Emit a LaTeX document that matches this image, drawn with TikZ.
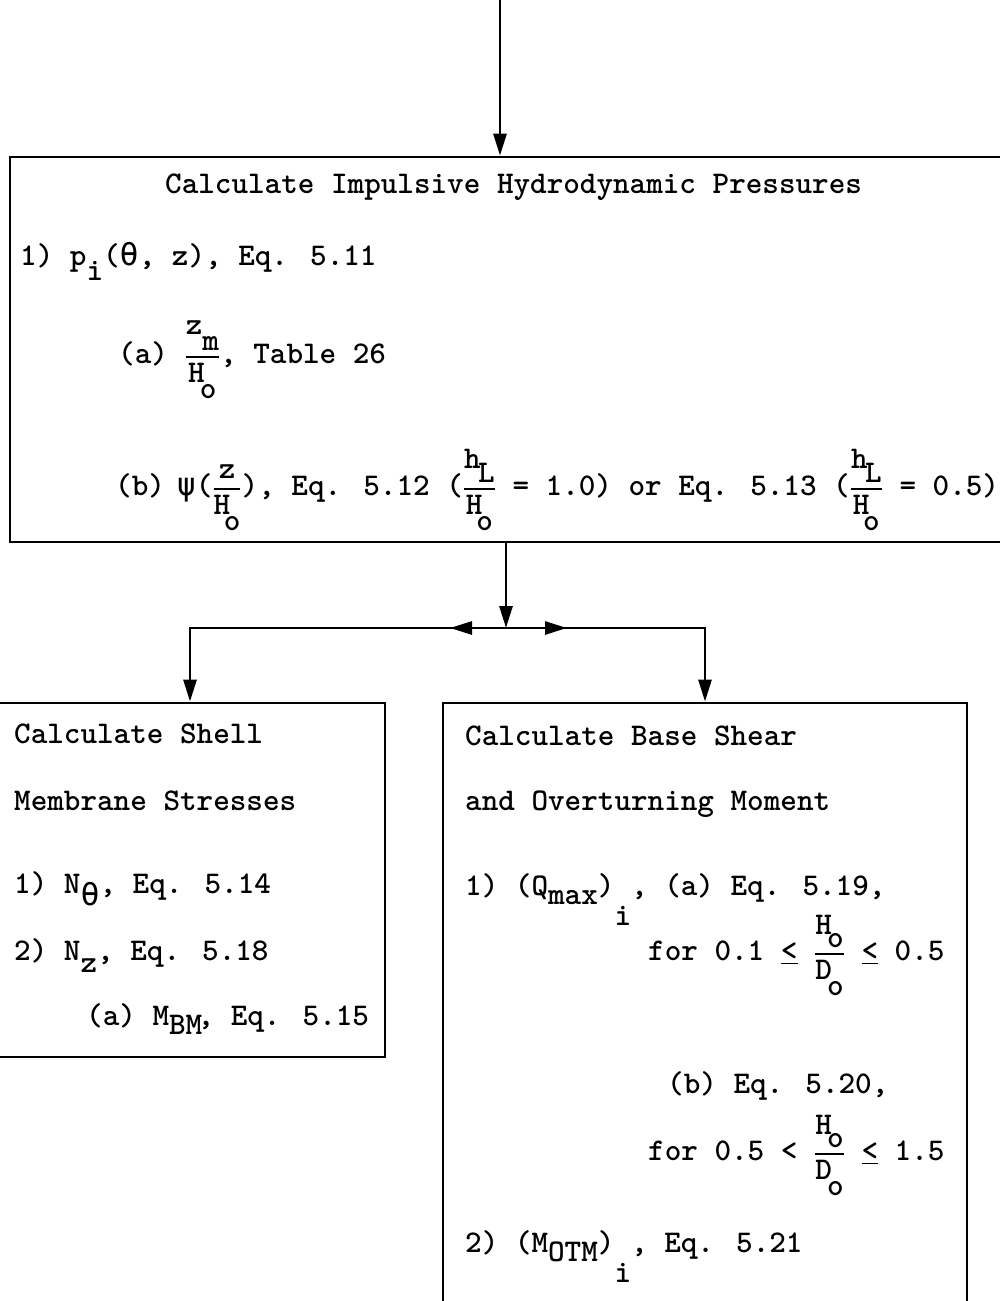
\documentclass[tikz,border=0pt]{standalone}
\usepackage{amsmath}
\usepackage{fontspec}
\usetikzlibrary{arrows.meta}
\newfontfamily\grk{DejaVu Sans Mono}
% typed subscripts are full-size characters dropped below the line
\newcommand{\lo}[2][0.5em]{\raisebox{-#1}{#2}}
\newcommand{\frc}[2]{$\genfrac{}{}{1.8pt}{0}{\hbox{\ttfamily\bfseries #1}}{\hbox{\ttfamily\bfseries #2}}$}
\newcommand{\ule}{\underline{<}}
\newcommand{\gr}[1]{{\grk\mdseries #1}}
\tikzset{
  box/.style={draw, line width=2.8pt, inner sep=0pt},
  txt/.style={anchor=base west, inner sep=0pt, font=\ttfamily\bfseries\fontsize{31.6}{38}\selectfont},
  arr/.style={line width=2.8pt, -{Triangle[length=22pt, width=13pt]}},
}

\begin{document}
\begin{tikzpicture}[x=1pt, y=-1pt]
\useasboundingbox (0,0) rectangle (999,1301);

% Boxes
\node[box, minimum width=1002pt, minimum height=385pt] (press) at (511,349.5) {};
\node[box, minimum width=390pt, minimum height=354pt] (shell) at (190,880) {};
\node[box, minimum width=524pt, minimum height=640pt] (base) at (705,1023) {};

% Impulsive pressures
\node[txt] (title) at (165,193) {Calculate Impulsive Hydrodynamic Pressures};
\node[txt] (pi) at (20,265) {1) p\lo{i}(\gr{θ}, z), Eq. 5.11};
\node[txt] (zm) at (118,363) {(a) \frc{z\lo{m}}{H\kern-0.15em\lo{o}}, Table 26};
\node[txt] (psi) at (115,495) {(b)\kern-0.15em{} \gr{ψ}(\frc{z}{H\kern-0.2em\lo{o}}), Eq. 5.12 (\frc{h\kern-0.08em\lo[0.45em]{L}}{H\kern-0.2em\lo{o}} = 1.0) or Eq. 5.13 (\frc{h\kern-0.08em\lo[0.45em]{L}}{H\kern-0.2em\lo{o}} = 0.5)};

% Shell stresses
\node[txt] (shtitle) at (14,743) {Calculate Shell};
\node[txt] (shtitleb) at (14,810) {Membrane Stresses};
\node[txt] (nth) at (14,893) {1) N\lo[0.4em]{\gr{θ}}, Eq. 5.14};
\node[txt] (nz) at (14,960) {2) N\lo[0.4em]{z}, Eq. 5.18};
\node[txt] (mbm) at (86,1025) {(a) M\lo[0.3em]{BM}\kern-0.15em, Eq. 5.15};

% Base shear and moment
\node[txt] (bstitle) at (465,745) {Calculate Base Shear};
\node[txt] (bstitleb) at (465,810) {and Overturning Moment};
\node[txt] (qmax) at (465,895) {1) (Q\lo[0.3em]{max})\lo[0.95em]{i}, (a) Eq. 5.19,};
\node[txt] (qa) at (648,960) {for 0.1 \ule{} \frc{H\kern-0.15em\lo[0.4em]{o}}{D\kern-0.15em\lo{o}} \ule{} 0.5};
\node[txt] (qb) at (667,1093) {(b) Eq. 5.20,};
\node[txt] (qbr) at (648,1160) {for 0.5 < \frc{H\kern-0.15em\lo[0.4em]{o}}{D\kern-0.15em\lo{o}} \ule{} 1.5};
\node[txt] (motm) at (465,1252) {2) (M\lo[0.3em]{OTM})\lo[0.95em]{i}, Eq. 5.21};

% Connectors
\coordinate (in) at (500,0);
\coordinate (split) at (506,628);
\draw[arr] (in) -- (in |- press.north);
\draw[arr] (split |- press.south) -- (split);
\draw[arr] (split) -| (shell.north);
\draw[arr] (split) -| (base.north);
\draw[arr] (split) -- ++(-56,0);
\draw[arr] (split) -- ++(61,0);
\end{tikzpicture}
\end{document}
